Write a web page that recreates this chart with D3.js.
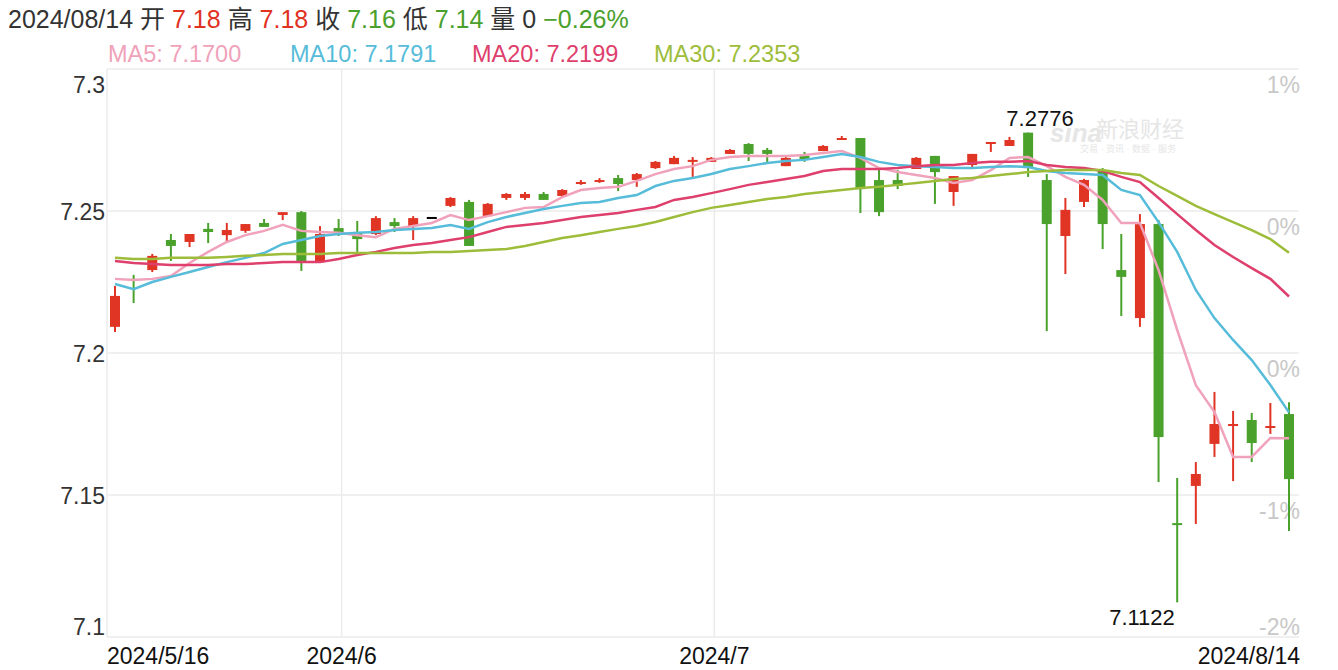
<!DOCTYPE html>
<html><head><meta charset="utf-8">
<script src="https://cdn.jsdelivr.net/npm/d3@7/dist/d3.min.js"></script>
<style>body{margin:0;background:#fff;font-family:"Helvetica Neue",Arial,"Liberation Sans","Noto Sans CJK SC",sans-serif;}</style>
</head><body><svg id="c" width="1338" height="670"></svg>
<script>
// [open, high, low, close]
const candles = [
[7.2092,7.2236,7.2074,7.2201],[7.2261,7.2275,7.2176,7.2254],[7.2292,7.2349,7.2285,7.2342],[7.2398,7.2419,7.2324,7.2377],
[7.2391,7.2419,7.2373,7.2419],[7.2437,7.2458,7.2387,7.2426],[7.2415,7.2458,7.2394,7.2433],[7.2430,7.2454,7.2423,7.2454],
[7.2458,7.2472,7.2444,7.2444],[7.2486,7.2496,7.2468,7.2496],[7.2496,7.2500,7.2289,7.2320],[7.2320,7.2447,7.2317,7.2419],
[7.2440,7.2472,7.2412,7.2423],[7.2426,7.2465,7.2356,7.2401],[7.2419,7.2482,7.2415,7.2475],[7.2461,7.2475,7.2426,7.2447],
[7.2447,7.2482,7.2398,7.2475],[7.2479,7.2479,7.2479,7.2479],[7.2518,7.2549,7.2514,7.2546],[7.2532,7.2539,7.2377,7.2377],
[7.2482,7.2528,7.2479,7.2525],[7.2546,7.2563,7.2539,7.2560],[7.2546,7.2567,7.2539,7.2560],[7.2560,7.2567,7.2539,7.2539],
[7.2553,7.2577,7.2549,7.2574],[7.2599,7.2609,7.2592,7.2602],[7.2602,7.2616,7.2599,7.2609],[7.2616,7.2627,7.2570,7.2595],
[7.2609,7.2634,7.2585,7.2630],[7.2651,7.2676,7.2648,7.2673],[7.2665,7.2694,7.2665,7.2687],[7.2676,7.2690,7.2620,7.2680],
[7.2673,7.2690,7.2673,7.2687],[7.2701,7.2718,7.2701,7.2715],[7.2736,7.2739,7.2676,7.2701],[7.2715,7.2722,7.2669,7.2701],
[7.2658,7.2690,7.2658,7.2687],[7.2694,7.2708,7.2673,7.2680],[7.2711,7.2732,7.2711,7.2729],[7.2754,7.2764,7.2754,7.2757],
[7.2757,7.2757,7.2493,7.2577],[7.2609,7.2651,7.2482,7.2496],[7.2609,7.2644,7.2577,7.2588],[7.2648,7.2690,7.2648,7.2687],
[7.2694,7.2694,7.2525,7.2637],[7.2567,7.2623,7.2518,7.2623],[7.2662,7.2701,7.2655,7.2701],[7.2739,7.2743,7.2708,7.2743],
[7.2729,7.2761,7.2729,7.2750],[7.2776,7.2776,7.2620,7.2651],[7.2609,7.2630,7.2077,7.2454],[7.2412,7.2546,7.2278,7.2504],
[7.2532,7.2613,7.2514,7.2609],[7.2644,7.2651,7.2366,7.2454],[7.2292,7.2419,7.2130,7.2268],[7.2123,7.2489,7.2092,7.2454],
[7.2454,7.2468,7.1546,7.1704],[7.1401,7.1560,7.1122,7.1398],[7.1532,7.1616,7.1398,7.1574],[7.1680,7.1863,7.1634,7.1750],
[7.1746,7.1796,7.1549,7.1750],[7.1764,7.1789,7.1616,7.1683],[7.1739,7.1824,7.1715,7.1743],[7.1785,7.1827,7.1373,7.1556]
];
const ma5 = [7.2261,7.2257,7.2261,7.2271,7.2317,7.2356,7.2391,7.2415,7.2430,7.2451,7.2430,7.2426,7.2423,7.2415,7.2408,7.2437,7.2447,7.2458,7.2486,7.2468,7.2482,7.2496,7.2511,7.2514,7.2549,7.2574,7.2581,7.2585,7.2606,7.2630,7.2648,7.2658,7.2680,7.2690,7.2694,7.2694,7.2694,7.2697,7.2704,7.2711,7.2687,7.2651,7.2637,7.2627,7.2616,7.2599,7.2609,7.2644,7.2687,7.2690,7.2658,7.2620,7.2592,7.2539,7.2458,7.2458,7.2292,7.2081,7.1887,7.1792,7.1634,7.1634,7.1701,7.1700];
const ma10 = [7.2243,7.2225,7.2250,7.2268,7.2285,7.2303,7.2320,7.2335,7.2352,7.2384,7.2398,7.2412,7.2419,7.2423,7.2426,7.2433,7.2437,7.2440,7.2451,7.2437,7.2461,7.2479,7.2493,7.2507,7.2518,7.2528,7.2532,7.2546,7.2556,7.2588,7.2606,7.2616,7.2630,7.2648,7.2658,7.2669,7.2676,7.2680,7.2690,7.2701,7.2690,7.2673,7.2662,7.2658,7.2655,7.2651,7.2651,7.2655,7.2658,7.2655,7.2641,7.2634,7.2630,7.2627,7.2574,7.2556,7.2461,7.2356,7.2222,7.2123,7.2046,7.1975,7.1887,7.1791];
const ma20 = [7.2324,7.2317,7.2313,7.2310,7.2310,7.2310,7.2313,7.2313,7.2317,7.2320,7.2320,7.2320,7.2331,7.2345,7.2356,7.2370,7.2380,7.2387,7.2398,7.2408,7.2426,7.2444,7.2451,7.2458,7.2468,7.2479,7.2486,7.2493,7.2504,7.2514,7.2539,7.2549,7.2563,7.2577,7.2592,7.2602,7.2613,7.2623,7.2641,7.2648,7.2648,7.2648,7.2651,7.2658,7.2662,7.2662,7.2669,7.2673,7.2673,7.2676,7.2662,7.2655,7.2651,7.2641,7.2620,7.2602,7.2546,7.2489,7.2433,7.2380,7.2338,7.2299,7.2261,7.2199];
const ma30 = [7.2335,7.2331,7.2331,7.2335,7.2335,7.2335,7.2338,7.2342,7.2345,7.2349,7.2349,7.2349,7.2352,7.2352,7.2352,7.2352,7.2352,7.2356,7.2356,7.2359,7.2363,7.2366,7.2377,7.2391,7.2405,7.2415,7.2426,7.2437,7.2447,7.2461,7.2479,7.2496,7.2511,7.2521,7.2532,7.2542,7.2549,7.2560,7.2567,7.2574,7.2581,7.2585,7.2592,7.2599,7.2606,7.2613,7.2616,7.2623,7.2630,7.2637,7.2641,7.2644,7.2644,7.2644,7.2634,7.2627,7.2588,7.2553,7.2518,7.2489,7.2461,7.2433,7.2401,7.2353];
const yTicks = [7.3,7.25,7.2,7.15,7.1];
const yTickLabels = ["7.3","7.25","7.2","7.15","7.1"];
const pctLabels = ["1%","0%","0%","-1%","-2%"];
const monthTicks = [{i:12,label:"2024/6"},{i:32,label:"2024/7"}];
const firstDate = "2024/5/16", lastDate = "2024/8/14";
const maSeries = [{name:"MA5",v:ma5,c:"#f0a2bb",val:"7.1700"},{name:"MA10",v:ma10,c:"#56bcd9",val:"7.1791"},{name:"MA20",v:ma20,c:"#de3f6c",val:"7.2199"},{name:"MA30",v:ma30,c:"#9dbd3a",val:"7.2353"}];

const RED="#e03424", GREEN="#4aa22c";
const svg=d3.select("#c");
const L=107,R=1299,T=69,B=637;
const x=d3.scaleLinear().domain([0,candles.length-1]).range([115,1289]);
const y=d3.scaleLinear().domain([7.1,7.3]).range([B,T]);

svg.selectAll(".hg").data(yTicks).join("line").attr("x1",L).attr("x2",R).attr("y1",d=>y(d)).attr("y2",d=>y(d)).attr("stroke","#ebebeb").attr("stroke-width",1.5);
svg.selectAll(".vg").data(monthTicks).join("line").attr("x1",d=>x(d.i)+3).attr("x2",d=>x(d.i)+3).attr("y1",T).attr("y2",B).attr("stroke","#ebebeb").attr("stroke-width",1.5);
svg.append("line").attr("x1",L).attr("x2",L).attr("y1",T).attr("y2",B).attr("stroke","#ebebeb").attr("stroke-width",1.5);

// watermark
const wm=svg.append("g").attr("fill","#e6e6e6");
wm.append("text").attr("x",1050).attr("y",142).attr("font-size",26).attr("font-style","italic").attr("font-weight","bold").text("sina");
wm.append("text").attr("x",1096).attr("y",137).attr("font-size",22).text("新浪财经");
wm.append("text").attr("x",1080).attr("y",152).attr("font-size",9).text("交易 · 资讯 · 数据 · 服务");

svg.selectAll(".yl").data(yTicks).join("text").attr("x",105).attr("text-anchor","end")
 .attr("y",(d,i)=>y(d)+(i===0?24:i===yTicks.length-1?-2:9)).attr("font-size",23).attr("fill","#333").text((d,i)=>yTickLabels[i]);
svg.selectAll(".pl").data(yTicks).join("text").attr("x",1300).attr("text-anchor","end")
 .attr("y",(d,i)=>y(d)+(i===0?24:i===yTicks.length-1?-2:24)).attr("font-size",23).attr("fill","#c8c8c8").text((d,i)=>pctLabels[i]);

const g=svg.append("g");
candles.forEach((c,i)=>{
  const [o,h,l,cl]=c; const doji=(o===h&&h===l);
  const col= doji?"#000": (cl>=o?RED:GREEN);
  const cx=x(i);
  if(!doji) g.append("line").attr("x1",cx).attr("x2",cx).attr("y1",y(h)).attr("y2",y(l)).attr("stroke",col).attr("stroke-width",2);
  const top=y(Math.max(o,cl)), bot=y(Math.min(o,cl));
  g.append("rect").attr("x",cx-5).attr("width",10).attr("y",top).attr("height",Math.max(2,bot-top)).attr("fill",col);
});

const line=d3.line().x((d,i)=>x(i)).y(d=>y(d));
maSeries.forEach(s=>svg.append("path").attr("d",line(s.v)).attr("fill","none").attr("stroke",s.c).attr("stroke-width",2.5));

svg.append("text").attr("x",1040).attr("y",126).attr("text-anchor","middle").attr("font-size",22).attr("fill","#111").text("7.2776");
svg.append("text").attr("x",1142).attr("y",625).attr("text-anchor","middle").attr("font-size",22).attr("fill","#111").text("7.1122");

svg.append("text").attr("x",L).attr("y",664).attr("font-size",23).attr("fill","#111").text(firstDate);
svg.selectAll(".xl").data(monthTicks).join("text").attr("x",d=>x(d.i)+3).attr("text-anchor","middle").attr("y",664).attr("font-size",23).attr("fill","#111").text(d=>d.label);
svg.append("text").attr("x",1300).attr("y",664).attr("text-anchor","end").attr("font-size",23).attr("fill","#111").text(lastDate);

const hd=svg.append("text").attr("x",8).attr("y",28).attr("font-size",25);
[["2024/08/14 开 ","#333"],["7.18","#e0321f"],[" 高 ","#333"],["7.18","#e0321f"],[" 收 ","#333"],["7.16","#4aa02c"],[" 低 ","#333"],["7.14","#4aa02c"],[" 量 ","#333"],["0","#333"],[" −0.26%","#4aa02c"]]
 .forEach(([t,c])=>hd.append("tspan").attr("fill",c).text(t));
maSeries.forEach((s,i)=>svg.append("text").attr("x",108+i*182).attr("y",62).attr("font-size",23.5).attr("fill",s.c).text(s.name+": "+s.val));
</script></body></html>
